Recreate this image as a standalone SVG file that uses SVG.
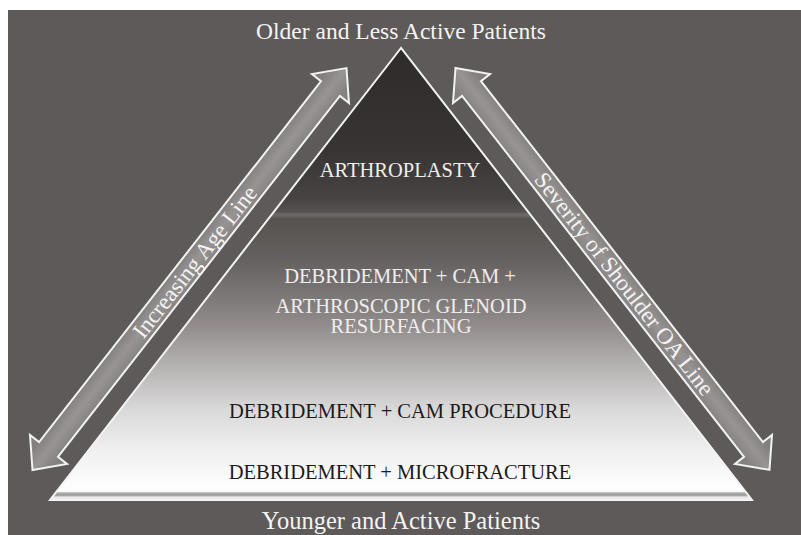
<svg xmlns="http://www.w3.org/2000/svg" width="801" height="535" viewBox="0 0 801 535">
  <style>
    .serif { font-family: "Liberation Serif", "Times New Roman", serif; }
    .lbl { fill: #f4f4f4; font-size: 23.5px; text-anchor: middle; }
    .lbl-b { fill: #f4f4f4; font-size: 24.5px; text-anchor: middle; }
    .tier-light { fill: #eeeeee; font-size: 20.5px; text-anchor: middle; }
    .tier-dark { fill: #1c1a1a; font-size: 20.5px; text-anchor: middle; }
    .arrow { fill: url(#arrowFill); stroke: #f2f2f2; stroke-width: 2; stroke-linejoin: miter; }
    .arrow-text { fill: #f4f4f4; font-size: 23px; text-anchor: middle; dominant-baseline: central; }
  </style>
  <defs>
    <linearGradient id="pyrFill" x1="0" y1="48" x2="0" y2="500" gradientUnits="userSpaceOnUse">
      <stop offset="0" stop-color="#2f2b2a"/>
      <stop offset="0.226" stop-color="#383433"/>
      <stop offset="0.336" stop-color="#484443"/>
      <stop offset="0.362" stop-color="#55514f"/>
      <stop offset="0.369" stop-color="#6e6a69"/>
      <stop offset="0.378" stop-color="#56524f"/>
      <stop offset="0.47" stop-color="#656160"/>
      <stop offset="0.557" stop-color="#7e7a79"/>
      <stop offset="0.62" stop-color="#948f8e"/>
      <stop offset="0.712" stop-color="#b8b6b5"/>
      <stop offset="0.80" stop-color="#dad9d9"/>
      <stop offset="0.889" stop-color="#efefef"/>
      <stop offset="0.956" stop-color="#fbfbfb"/>
      <stop offset="0.975" stop-color="#ffffff"/>
      <stop offset="1" stop-color="#e6e6e6"/>
    </linearGradient>
    <linearGradient id="arrowFill" x1="0" y1="-14" x2="0" y2="14" gradientUnits="userSpaceOnUse">
      <stop offset="0" stop-color="#827e7d"/>
      <stop offset="0.5" stop-color="#989493"/>
      <stop offset="1" stop-color="#84807f"/>
    </linearGradient>
    <linearGradient id="bandFill" x1="0" y1="492" x2="0" y2="497" gradientUnits="userSpaceOnUse">
      <stop offset="0" stop-color="#c9c9c9"/>
      <stop offset="0.5" stop-color="#9c9a9a"/>
      <stop offset="1" stop-color="#b9b8b8"/>
    </linearGradient>
    <path id="arrowShape" d="M0,0 L26,-23.5 L26,-12 L484,-12 L484,-23.5 L510,0 L484,23.5 L484,12 L26,12 L26,23.5 Z"/>
  </defs>

  <g id="background">
    <rect x="0" y="0" width="801" height="535" fill="#ffffff"/>
    <rect x="8" y="10" width="793" height="525" fill="#5e5a59"/>
  </g>

  <g id="pyramid">
    <polygon points="401,48 50,500 752,500" fill="url(#pyrFill)"/>
    <polygon points="56.2,492 745.8,492 748.9,496.5 53.1,496.5" fill="url(#bandFill)"/>
    <polygon points="401,48 50,500 752,500" fill="none" stroke="#f4f4f4" stroke-width="2" stroke-linejoin="miter"/>
  </g>

  <g id="label-top">
    <text class="serif lbl" x="401" y="39">Older and Less Active Patients</text>
  </g>
  <g id="label-bottom">
    <text class="serif lbl-b" x="401" y="529">Younger and Active Patients</text>
  </g>

  <g id="tier-arthroplasty">
    <text class="serif tier-light" x="400" y="177">ARTHROPLASTY</text>
  </g>
  <g id="tier-glenoid">
    <text class="serif tier-light" x="400" y="283">DEBRIDEMENT + CAM +</text>
    <text class="serif tier-light" x="401" y="313">ARTHROSCOPIC GLENOID</text>
    <text class="serif tier-light" x="401" y="333">RESURFACING</text>
  </g>
  <g id="tier-cam">
    <text class="serif tier-dark" x="400" y="418">DEBRIDEMENT + CAM PROCEDURE</text>
  </g>
  <g id="tier-microfracture">
    <text class="serif tier-dark" x="400" y="479">DEBRIDEMENT + MICROFRACTURE</text>
  </g>

  <g id="connectors">
    <g id="age-arrow" transform="translate(32.5,470) rotate(-52)">
      <use href="#arrowShape" class="arrow"/>
      <text class="serif arrow-text" x="264" y="0">Increasing Age Line</text>
    </g>
    <g id="severity-arrow" transform="translate(455.5,68) rotate(52)">
      <use href="#arrowShape" class="arrow"/>
      <text class="serif arrow-text" x="274" y="0">Severity of Shoulder OA Line</text>
    </g>
  </g>
</svg>
